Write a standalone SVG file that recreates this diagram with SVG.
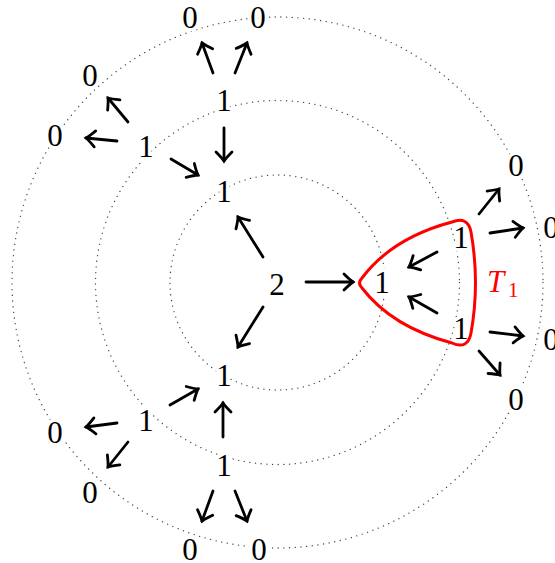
<svg xmlns="http://www.w3.org/2000/svg" width="555" height="563" viewBox="0 0 555 563">
<style>
.c{fill:none;stroke:#444;stroke-width:1.3;stroke-dasharray:0.1 5.6;stroke-linecap:round}
.n{font-family:"Liberation Serif","DejaVu Serif",serif;font-size:31px;text-anchor:middle;fill:#000;stroke:#fff;stroke-width:7px;paint-order:stroke;stroke-linejoin:round}
.e{fill:none;stroke:#000;stroke-width:2.8;stroke-linecap:round;marker-end:url(#a)}
.t{font-family:"Liberation Serif","DejaVu Serif",serif;fill:#ff0000}
</style>
<defs>
<marker id="a" markerUnits="userSpaceOnUse" viewBox="-12 -10 14 20" refX="0" refY="0" markerWidth="14" markerHeight="20" orient="auto" overflow="visible">
<path d="M-9,-8 Q-3,-2 0,0 Q-3,2 -9,8" fill="none" stroke="#000" stroke-width="2.8" stroke-linecap="round"/>
</marker>
</defs>
<g id="rings">
<circle class="c" cx="277.5" cy="282.5" r="107.5"/>
<circle class="c" cx="277.5" cy="282.5" r="182"/>
<circle class="c" cx="277.5" cy="282.5" r="265.5"/>
</g>
<g id="connectors">
<line class="e" x1="306" y1="282" x2="353" y2="282"/>
<line class="e" x1="263" y1="257" x2="238" y2="217"/>
<line class="e" x1="263" y1="307" x2="238" y2="347"/>
<line class="e" x1="437" y1="252" x2="409" y2="267"/>
<line class="e" x1="437" y1="313" x2="409" y2="297"/>
<line class="e" x1="479" y1="214" x2="499" y2="189"/>
<line class="e" x1="490" y1="233" x2="523" y2="228"/>
<line class="e" x1="490" y1="332" x2="523" y2="336"/>
<line class="e" x1="479" y1="351" x2="500" y2="375"/>
<line class="e" x1="213" y1="73" x2="202" y2="43"/>
<line class="e" x1="235" y1="73" x2="247" y2="43"/>
<line class="e" x1="224" y1="128" x2="224" y2="161"/>
<line class="e" x1="171" y1="159" x2="198" y2="175"/>
<line class="e" x1="117" y1="141" x2="86" y2="138"/>
<line class="e" x1="128" y1="122" x2="108" y2="98"/>
<line class="e" x1="170" y1="405" x2="198" y2="389"/>
<line class="e" x1="117" y1="423" x2="86" y2="427"/>
<line class="e" x1="128" y1="442" x2="108" y2="467"/>
<line class="e" x1="223" y1="437" x2="223" y2="403"/>
<line class="e" x1="213" y1="491" x2="202" y2="521"/>
<line class="e" x1="235" y1="491" x2="247" y2="521"/>
</g>
<g id="root"><text class="n" x="277" y="294.5">2</text></g>
<g id="n-r"><text class="n" x="382" y="292.5">1</text></g>
<g id="n-ul"><text class="n" x="224" y="201.5">1</text></g>
<g id="n-ll"><text class="n" x="224" y="385.5">1</text></g>
<g id="n-r1"><text class="n" x="461" y="247.5">1</text></g>
<g id="n-r2"><text class="n" x="461" y="338.5">1</text></g>
<g id="n-top"><text class="n" x="224" y="110.5">1</text></g>
<g id="n-left1"><text class="n" x="146" y="156.5">1</text></g>
<g id="n-left2"><text class="n" x="146" y="430.5">1</text></g>
<g id="n-bot"><text class="n" x="224" y="475.5">1</text></g>
<g id="z1"><text class="n" x="190" y="27.5">0</text></g>
<g id="z2"><text class="n" x="258" y="27.5">0</text></g>
<g id="z3"><text class="n" x="90" y="85.5">0</text></g>
<g id="z4"><text class="n" x="55" y="145.5">0</text></g>
<g id="z5"><text class="n" x="516" y="175.5">0</text></g>
<g id="z6"><text class="n" x="551" y="237.5">0</text></g>
<g id="z7"><text class="n" x="551" y="349.5">0</text></g>
<g id="z8"><text class="n" x="516" y="409.5">0</text></g>
<g id="z9"><text class="n" x="55" y="442.5">0</text></g>
<g id="z10"><text class="n" x="90" y="502.5">0</text></g>
<g id="z11"><text class="n" x="190" y="559.5">0</text></g>
<g id="z12"><text class="n" x="259" y="559.5">0</text></g>
<g id="T1">
<path d="M362,278 Q392,238 452,222 Q468,216 471,232 Q480,283 471,333 Q468,350 452,343 Q392,327 362,288 Q357,283 362,278 Z" fill="none" stroke="#ff0000" stroke-width="3" stroke-linejoin="round"/>
<text class="t" x="487" y="292" font-size="31" font-style="italic">T</text>
<text class="t" x="508" y="297" font-size="21">1</text>
</g>
</svg>
